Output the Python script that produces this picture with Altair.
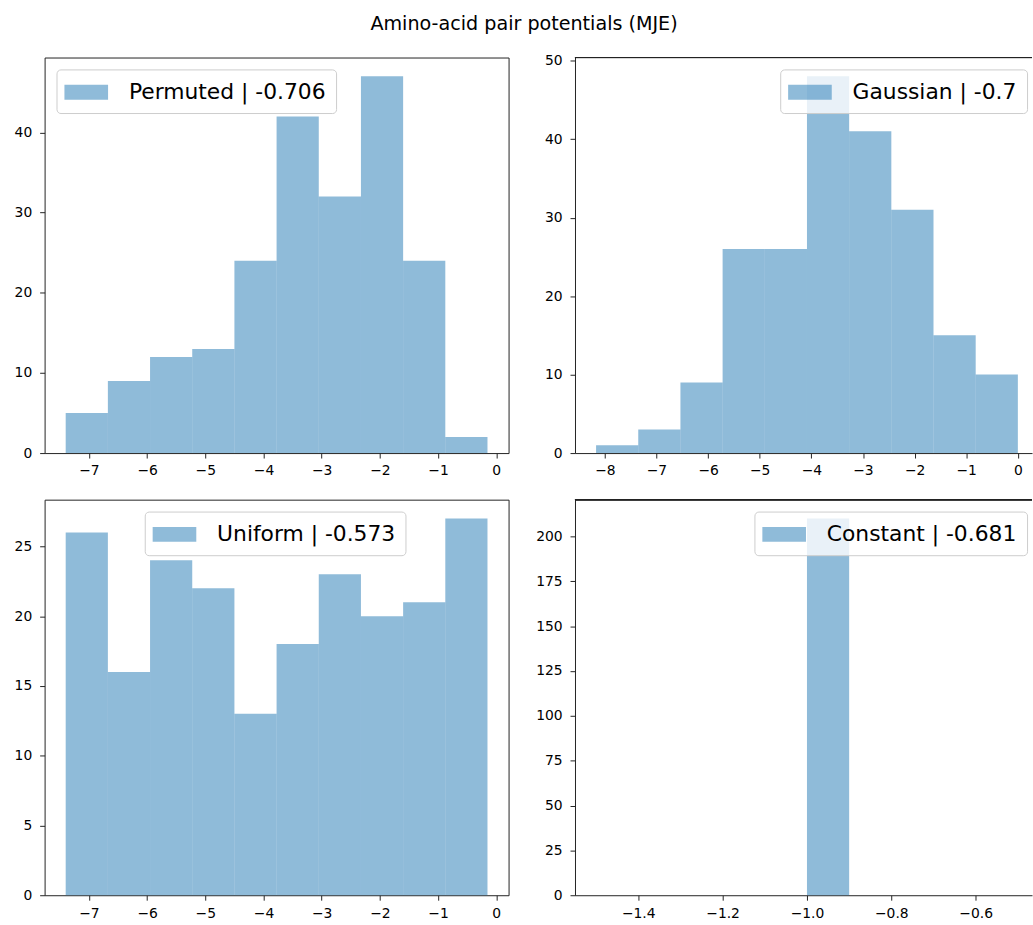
import altair as alt
import pandas as pd

TITLE = "Amino-acid pair potentials (MJE)"

# Histogram bin edges (x) and counts (y)
permuted_edges = [-7.40, -6.675, -5.95, -5.225, -4.50, -3.775, -3.05, -2.325, -1.60, -0.875, -0.15]
permuted_counts = [5, 9, 12, 13, 24, 42, 32, 47, 24, 2]
permuted_label = "Permuted | -0.706"

gaussian_edges = [-8.17, -7.353, -6.536, -5.719, -4.902, -4.085, -3.268, -2.451, -1.634, -0.817, 0.0]
gaussian_counts = [1, 3, 9, 26, 26, 48, 41, 31, 15, 10]
gaussian_label = "Gaussian | -0.7"

uniform_edges = [-7.40, -6.675, -5.95, -5.225, -4.50, -3.775, -3.05, -2.325, -1.60, -0.875, -0.15]
uniform_counts = [26, 16, 24, 22, 13, 18, 23, 20, 21, 27]
uniform_label = "Uniform | -0.573"

constant_edges = [-1.5, -1.4, -1.3, -1.2, -1.1, -1.0, -0.9, -0.8, -0.7, -0.6, -0.5]
constant_counts = [0, 0, 0, 0, 0, 210, 0, 0, 0, 0]
constant_label = "Constant | -0.681"

# Axis ticks
x_ticks_permuted = [-7, -6, -5, -4, -3, -2, -1, 0]
x_ticks_gaussian = [-8, -7, -6, -5, -4, -3, -2, -1, 0]
x_ticks_uniform = [-7, -6, -5, -4, -3, -2, -1, 0]
x_ticks_constant = [-1.4, -1.2, -1.0, -0.8, -0.6]
y_ticks_permuted = [0, 10, 20, 30, 40]
y_ticks_gaussian = [0, 10, 20, 30, 40, 50]
y_ticks_uniform = [0, 5, 10, 15, 20, 25]
y_ticks_constant = [0, 25, 50, 75, 100, 125, 150, 175, 200]

BLUE = "#1f77b4"
FRAME = "#222"
W, H = 468, 399      # full panel size
W_CUT = 461          # right-hand panels are cut off by the page edge

SYMBOL = "M-1.154,-0.577L2.231,-0.577L2.231,0.577L-1.154,0.577Z"


def margin_domain(lo, hi, shown=W):
    m = (hi - lo) * 0.05
    lo_d, hi_d = lo - m, hi + m
    return [lo_d, lo_d + (hi_d - lo_d) * shown / W]


def panel(edges, counts, label, xticks, yticks, xfmt, legend_kw, cut=False):
    df = pd.DataFrame({
        "lo": edges[:-1],
        "hi": edges[1:],
        "count": counts,
        "series": [label] * len(counts),
    })
    ymax = max(counts) * 1.05
    width = W_CUT if cut else W
    axis_kw = dict(domain=True, domainColor=FRAME, domainWidth=1) if cut else {}
    bars = alt.Chart(df).mark_bar(opacity=0.5).encode(
        x=alt.X("lo:Q",
                scale=alt.Scale(domain=margin_domain(edges[0], edges[-1], width), nice=False, zero=False),
                axis=alt.Axis(values=xticks, format=xfmt, title=None, **axis_kw)),
        x2="hi:Q",
        y=alt.Y("count:Q",
                scale=alt.Scale(domain=[0, ymax], nice=False),
                axis=alt.Axis(values=yticks, title=None, **axis_kw)),
        y2=alt.datum(0),
        color=alt.Color("series:N", scale=alt.Scale(range=[BLUE]),
                        legend=alt.Legend(title=None, **legend_kw)),
    )
    if not cut:
        return bars.properties(width=width, height=H)
    top = alt.Chart(df).mark_rule(color=FRAME, strokeWidth=1).encode(y=alt.datum(ymax))
    return alt.layer(bars, top).properties(
        width=width, height=H, view=alt.ViewBackground(stroke=None)
    )


p1 = panel(permuted_edges, permuted_counts, permuted_label, x_ticks_permuted, y_ticks_permuted, "d",
           dict(orient="top-left", offset=12))
p2 = panel(gaussian_edges, gaussian_counts, gaussian_label, x_ticks_gaussian, y_ticks_gaussian, "d",
           dict(orient="none", legendX=207, legendY=12), cut=True)
p3 = panel(uniform_edges, uniform_counts, uniform_label, x_ticks_uniform, y_ticks_uniform, "d",
           dict(orient="none", legendX=101, legendY=12))
p4 = panel(constant_edges, constant_counts, constant_label, x_ticks_constant, y_ticks_constant, ".1f",
           dict(orient="none", legendX=181, legendY=12), cut=True)

chart = alt.ConcatChart(
    concat=[p1, p2, p3, p4],
    columns=2,
    spacing={"row": 47, "column": 67},
    bounds="flush",
).resolve_scale(
    x="independent", y="independent", color="independent"
).properties(
    title=alt.TitleParams(TITLE, anchor="middle", fontSize=19.3, font="DejaVu Sans",
                          fontWeight="normal", color="#000", offset=20, dx=1),
    padding={"left": 13, "top": 10, "right": 0, "bottom": 0},
    background="white",
).configure_view(
    stroke=FRAME, strokeWidth=1
).configure_axis(
    labelFont="DejaVu Sans", labelFontSize=14, labelColor="#000",
    tickColor=FRAME, tickSize=5, tickWidth=1, domain=False, grid=False,
).configure_axisX(
    labelPadding=6
).configure_axisY(
    labelPadding=8
).configure_legend(
    labelFont="DejaVu Sans", labelFontSize=22, labelColor="#000", labelLimit=0,
    symbolType=SYMBOL, symbolSize=676, symbolOpacity=0.5, symbolStrokeWidth=0,
    labelOffset=37, padding=10, cornerRadius=4,
    strokeColor="#cccccc", fillColor="rgba(255,255,255,0.8)",
)

chart.save("out.html", embed_options={"renderer": "svg", "actions": False})
